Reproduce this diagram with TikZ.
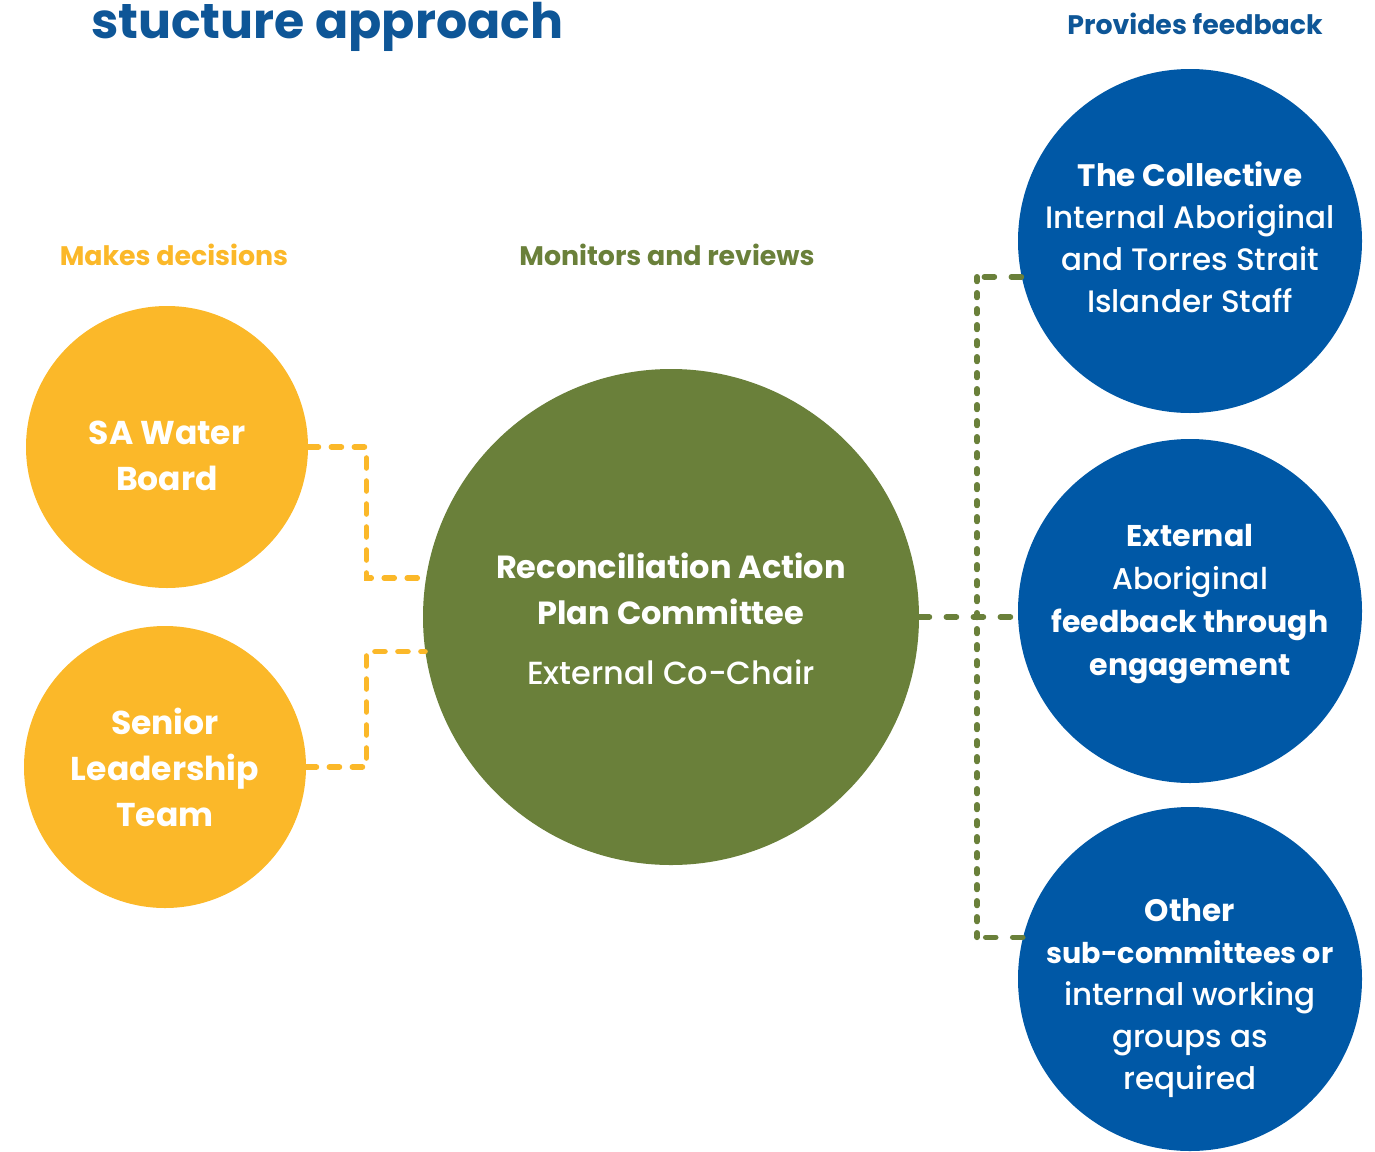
\documentclass[tikz,border=0pt]{standalone}
\usepackage{fontspec}
\setmainfont{Poppins}[UprightFont = * Medium, BoldFont = * Bold]
\usepackage{xcolor}
\usepackage{tikz}
\usetikzlibrary{calc}

\definecolor{boardyellow}{HTML}{FBB829}
\definecolor{rapgreen}{HTML}{6A803A}
\definecolor{staffblue}{HTML}{0058A6}
\definecolor{headblue}{HTML}{0E5697}

\newcommand{\disctxt}{\fontsize{15.5}{23}\selectfont}
\newcommand{\headtxt}{\fontsize{13.4}{17}\selectfont\bfseries}

\begin{document}
\begin{tikzpicture} [
            x = 0.5pt, y = -0.5pt,
            % ----- Node definitions ----- %
            disc/.style = {
                circle,
                fill = #1,
                inner sep = 0pt,
                text = white
            },
            smalldisc/.style = {disc = boardyellow, minimum size = 141pt},
            bigdisc/.style   = {disc = rapgreen, minimum size = 248pt},
            bluedisc/.style  = {disc = staffblue, minimum size = 172pt},
            disctext/.style  = {align = center, text = white, font = \disctxt},
            heading/.style   = {anchor = base, font = \headtxt, text = #1},
            yellowlink/.style = {
                draw = boardyellow,
                line width = 2.8pt,
                line cap = round,
                dash pattern = on 5pt off 6.5pt
            },
            greenlink/.style = {
                draw = rapgreen,
                line width = 2.8pt,
                line cap = round,
                dash pattern = on 5pt off 8.5pt
            },
            greentrunk/.style = {greenlink, dash pattern = on 2.3pt off 5.7pt}
    ]
    \useasboundingbox (0,0) rectangle (1375,1151);

            % ----- Headings ----- %
        \node [anchor = base west, font = \fontsize{24.5}{30}\selectfont\bfseries, text = headblue]
            (title) at (84,38) {stucture approach};
        \node [heading = boardyellow] (decides) at (174,265) {Makes decisions};
        \node [heading = rapgreen]    (monitors) at (667,265) {Monitors and reviews};
        \node [heading = headblue]    (feedback) at (1195,34) {Provides feedback};

            % ----- Node constructions ----- %
        \node [smalldisc] (board) at (167,447) {};
        \node [smalldisc] (slt)   at (165,767) {};
        \node [bigdisc]   (rap)   at (671,617) {};
        \node [bluedisc]  (collective) at (1190,241) {};
        \node [bluedisc]  (external)   at (1190,611) {};
        \node [bluedisc]  (other)      at (1190,979) {};

        \node [disctext, font = \fontsize{16.5}{23}\selectfont\bfseries] (boardtext) at ([yshift=-4.5pt]board.center)
            {SA Water\\ Board};
        \node [disctext, font = \fontsize{16.5}{23}\selectfont\bfseries] (slttext) at (slt.center)
            {Senior\\ Leadership\\ Team};
        \node [disctext, font = \fontsize{16}{23}\selectfont] (raptext) at ([yshift=-1pt]rap.center)
            {\bfseries Reconciliation Action\\ \bfseries Plan Committee\\[7pt] External Co-Chair};
        \node [disctext, font = \fontsize{15.5}{21}\selectfont] (collectivetext) at ([yshift=2pt]collective.center)
            {\bfseries The Collective\\ Internal Aboriginal\\ and Torres Strait\\ Islander Staff};
        \node [disctext, font = \fontsize{15}{21.5}\selectfont] (externaltext) at ([yshift=3.5pt]external.center)
            {\bfseries External\\ Aboriginal\\ \bfseries feedback through\\ \bfseries engagement};
        \node [disctext, font = \fontsize{15.5}{21}\selectfont] (othertext) at ([yshift=-9.5pt]other.center)
            {\bfseries Other\\ \fontsize{14.3}{21}\selectfont\bfseries sub-committees or\\ internal working\\ groups as\\ required};

            % ----- Connections ----- %
        \coordinate (trunk) at (977,617);
        \draw [yellowlink] (board.east) -- ++(58,0) |- (rap.171);
        \draw [yellowlink] (slt.east) -- ++(60,0) |- (rap.188);
        \draw [greenlink] (rap.east) -- (trunk) -- (rap.east -| external.west);
        \draw [greenlink] (collective.192) -- (collective.192 -| trunk);
        \draw [greenlink] (other.166) -- (other.166 -| trunk);
        \draw [greentrunk] (collective.192 -| trunk) -- (other.166 -| trunk);

\end{tikzpicture}
\end{document}
